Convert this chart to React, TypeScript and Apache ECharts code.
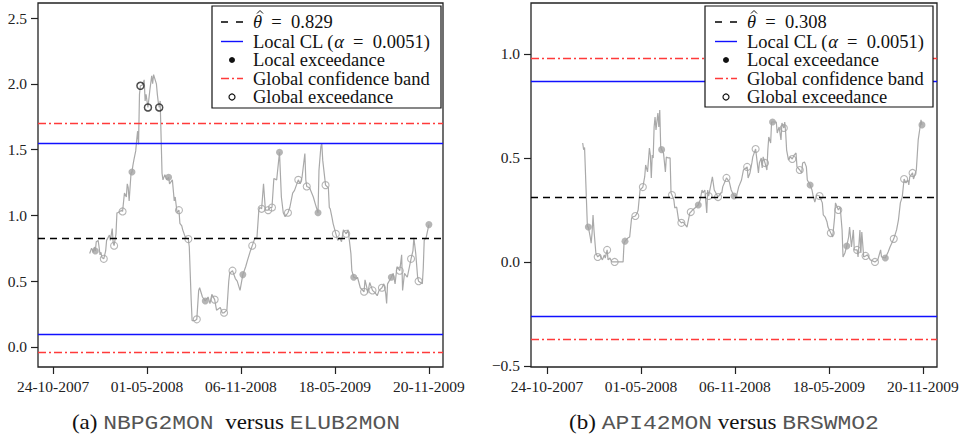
import React, { useEffect, useRef } from 'react';
import * as echarts from 'echarts';

// ---- data -------------------------------------------------------------
const dateLabels = ['24-10-2007', '01-05-2008', '06-11-2008', '18-05-2009', '20-11-2009'];
const tickObs = [0, 100, 200, 300, 400];
const leftYTicks = [0, 0.5, 1, 1.5, 2, 2.5];
const rightYTicks = [-0.5, 0, 0.5, 1];

const leftTrace = [
  [39,0.71],[41,0.75],[43,0.72],[44,0.76],[45,0.73],[46,0.80],[48,0.81],[49,0.76],[50,0.70],[51,0.72],[52,0.68],[54,0.67],[56,0.73],[57,0.81],[60,0.85],[61,0.81],[63,0.90],[64,0.79],[65,0.77],[67,0.86],[68,1.02],[69,1.02],[73,1.04],[74,1.03],[76,1.17],[78,1.14],[79,1.24],[80,1.21],[81,1.11],[83,1.32],[84,1.33],[85,1.38],[86,1.42],[88,1.49],[89,1.57],[90,1.64],[91,1.54],[92,1.92],[93,1.985],[95,1.99],[97,2.03],[98,1.87],[99,1.92],[101,1.82],[103,1.95],[105,2.06],[106,2.00],[107,2.07],[110,2.00],[111,1.92],[112,1.86],[113,1.82],[114,1.87],[116,1.32],[117,1.27],[119,1.31],[121,1.27],[123,1.29],[124,1.24],[127,1.27],[129,1.11],[130,1.14],[132,1.02],[134,1.04],[135,0.94],[137,0.92],[138,0.89],[140,0.85],[141,0.83],[144,0.82],[145,0.76],[146,0.56],[147,0.36],[148,0.20],[151,0.20],[153,0.21],[155,0.43],[156,0.45],[159,0.38],[161,0.36],[162,0.35],[165,0.38],[167,0.33],[169,0.40],[172,0.36],[174,0.28],[178,0.30],[180,0.26],[182,0.26],[185,0.28],[187,0.50],[188,0.56],[191,0.58],[194,0.52],[196,0.50],[199,0.43],[202,0.55],[205,0.61],[207,0.66],[210,0.73],[212,0.77],[215,0.83],[217,0.83],[219,1.04],[220,1.06],[222,1.05],[224,1.24],[226,1.04],[229,1.04],[231,1.06],[233,1.06],[235,1.28],[238,1.27],[241,1.48],[243,1.14],[245,1.02],[247,0.99],[250,1.02],[252,1.06],[255,1.17],[257,1.19],[261,1.27],[263,1.24],[265,1.29],[268,1.47],[269,1.27],[270,1.22],[273,1.21],[277,1.14],[279,1.09],[282,1.02],[283,1.34],[285,1.52],[286,1.55],[287,1.42],[290,1.23],[293,1.21],[294,1.06],[295,1.05],[297,0.98],[298,0.94],[301,0.86],[303,0.81],[305,0.83],[307,0.80],[309,0.89],[312,0.86],[314,0.89],[315,0.83],[317,0.71],[318,0.58],[320,0.53],[323,0.52],[324,0.53],[327,0.45],[331,0.42],[332,0.51],[334,0.45],[335,0.41],[337,0.49],[340,0.43],[343,0.41],[345,0.39],[347,0.43],[350,0.45],[352,0.48],[354,0.41],[355,0.33],[356,0.48],[360,0.53],[362,0.56],[364,0.48],[366,0.61],[369,0.58],[371,0.70],[372,0.43],[374,0.56],[377,0.53],[381,0.67],[383,0.73],[384,0.83],[386,0.71],[388,0.53],[389,0.50],[393,0.48],[394,0.60],[395,0.81],[397,0.83],[400,0.93]
];
const leftLocal = [[45,0.73],[84,1.33],[123,1.29],[162,0.35],[202,0.55],[241,1.48],[282,1.02],[320,0.53],[360,0.53],[400,0.93]];
const leftGlobal = [[54,0.67],[65,0.77],[74,1.03],[134,1.04],[144,0.82],[153,0.21],[172,0.36],[182,0.26],[191,0.58],[212,0.77],[222,1.05],[229,1.04],[233,1.06],[250,1.02],[261,1.27],[270,1.22],[290,1.23],[301,0.86],[312,0.86],[331,0.42],[340,0.43],[350,0.45],[369,0.58],[381,0.67],[389,0.50]];
const leftGlobalOut = [[93,1.985],[101,1.82],[113,1.82]];
const leftTheta = 0.829;
const leftLocalCL = [0.1, 1.555];
const leftGlobalBand = [-0.04, 1.695];

const rightTrace = [
  [38,0.572],[39,0.54],[40,0.55],[43,0.17],[44,0.168],[46,0.12],[47,0.09],[48,0.14],[49,0.226],[50,0.154],[52,0.043],[54,0.024],[56,0.034],[59,0.01],[61,0.034],[62,0.019],[64,0.058],[65,0.01],[67,0.019],[69,0.0],[72,0.0],[76,0.0],[81,0.0],[82,0.09],[83,0.10],[86,0.115],[88,0.12],[90,0.21],[91,0.216],[94,0.221],[96,0.236],[97,0.25],[99,0.346],[102,0.36],[104,0.41],[105,0.466],[107,0.433],[109,0.548],[110,0.514],[111,0.404],[112,0.514],[113,0.50],[114,0.649],[115,0.697],[116,0.635],[118,0.716],[119,0.649],[120,0.731],[121,0.553],[122,0.54],[124,0.524],[126,0.433],[127,0.505],[129,0.50],[131,0.50],[132,0.332],[133,0.322],[135,0.298],[136,0.26],[138,0.264],[140,0.202],[143,0.188],[145,0.192],[149,0.168],[152,0.236],[153,0.24],[155,0.25],[161,0.274],[163,0.298],[165,0.346],[166,0.332],[168,0.346],[170,0.236],[171,0.346],[172,0.317],[174,0.361],[176,0.409],[178,0.346],[182,0.312],[185,0.332],[186,0.332],[187,0.361],[191,0.404],[194,0.385],[196,0.346],[199,0.317],[202,0.322],[204,0.361],[207,0.394],[209,0.442],[213,0.457],[214,0.404],[216,0.428],[218,0.476],[219,0.505],[222,0.543],[223,0.505],[225,0.428],[226,0.476],[228,0.50],[229,0.452],[230,0.505],[232,0.476],[234,0.442],[235,0.538],[236,0.601],[238,0.572],[239,0.673],[240,0.673],[244,0.673],[245,0.62],[247,0.649],[249,0.587],[250,0.668],[252,0.644],[253,0.673],[254,0.62],[255,0.538],[257,0.49],[259,0.505],[261,0.495],[263,0.514],[265,0.524],[266,0.457],[269,0.442],[271,0.428],[272,0.476],[274,0.481],[276,0.457],[277,0.394],[280,0.37],[282,0.346],[283,0.322],[285,0.288],[287,0.322],[290,0.317],[293,0.284],[294,0.226],[296,0.216],[298,0.192],[299,0.168],[302,0.139],[304,0.12],[306,0.212],[307,0.284],[310,0.25],[312,0.264],[314,0.154],[315,0.024],[317,0.043],[319,0.077],[321,0.12],[322,0.168],[324,0.072],[326,0.154],[327,0.058],[330,0.058],[331,0.024],[333,0.154],[334,0.043],[335,0.144],[337,0.024],[339,0.029],[341,0.034],[344,0.01],[349,0.0],[352,0.01],[355,0.058],[356,0.024],[360,0.019],[363,0.048],[365,0.072],[369,0.111],[372,0.154],[374,0.202],[376,0.284],[378,0.312],[380,0.399],[382,0.38],[384,0.394],[385,0.37],[386,0.409],[389,0.428],[390,0.399],[393,0.442],[394,0.514],[395,0.587],[397,0.649],[398,0.683],[399,0.659]
];
const rightLocal = [[44,0.168],[83,0.10],[122,0.54],[161,0.274],[199,0.317],[240,0.673],[280,0.37],[319,0.077],[360,0.019],[399,0.659]];
const rightGlobal = [[54,0.024],[64,0.058],[72,0.0],[94,0.221],[102,0.36],[133,0.322],[143,0.188],[153,0.24],[172,0.317],[182,0.312],[191,0.404],[213,0.457],[222,0.543],[232,0.476],[252,0.644],[261,0.495],[269,0.442],[290,0.317],[302,0.139],[310,0.25],[330,0.058],[339,0.029],[349,0.0],[369,0.111],[380,0.399],[389,0.428]];
const rightTheta = 0.308;
const rightLocalCL = [-0.257, 0.873];
const rightGlobalBand = [-0.367, 0.983];

const alphaText = '0.0051';
const captionA = ['(a)', 'NBPG2MON', 'versus', 'ELUB2MON'];
const captionB = ['(b)', 'API42MON', 'versus', 'BRSWMO2'];

// ---- styling ----------------------------------------------------------
const SERIF = "'Liberation Serif', 'Times New Roman', serif";
const MONO = "'Liberation Mono', 'Courier New', monospace";
const TRACE = '#a9a9a9';
const MARK = '#a2a2a2';
const BLUE = '#1010ff';
const RED = '#ff3a3a';
const DASH = [7, 5];
const DASHDOT = [8, 3, 2, 3];
const EQ = '\u2002=\u2002';

function fmtY(v: number) {
  return v < 0 ? '\u2212' + Math.abs(v).toFixed(1) : v.toFixed(1);
}

function panelSeries(idx: number, trace: number[][], local: number[][], global: number[][], globalOut: number[][], theta: number, cl: number[], band: number[]) {
  const s: any[] = [
    {
      type: 'line', xAxisIndex: idx, yAxisIndex: idx, data: trace, symbol: 'none', showSymbol: false,
      lineStyle: { color: TRACE, width: 1.2 }, z: 2, silent: true,
      markLine: {
        silent: true, symbol: 'none', label: { show: false }, animation: false,
        data: [
          { yAxis: theta, lineStyle: { color: '#000', type: DASH, width: 1.3 } },
          { yAxis: cl[0], lineStyle: { color: BLUE, type: 'solid', width: 1.4 } },
          { yAxis: cl[1], lineStyle: { color: BLUE, type: 'solid', width: 1.4 } },
          { yAxis: band[0], lineStyle: { color: RED, type: DASHDOT, width: 1.4 } },
          { yAxis: band[1], lineStyle: { color: RED, type: DASHDOT, width: 1.4 } },
        ],
      },
    },
    {
      type: 'scatter', xAxisIndex: idx, yAxisIndex: idx, data: local, symbol: 'circle', symbolSize: 7,
      itemStyle: { color: MARK }, z: 3, silent: true,
    },
    {
      type: 'scatter', xAxisIndex: idx, yAxisIndex: idx, data: global, symbol: 'circle', symbolSize: 7,
      itemStyle: { color: 'rgba(0,0,0,0)', borderColor: MARK, borderWidth: 1.1 }, z: 3, silent: true,
    },
  ];
  if (globalOut.length) {
    s.push({
      type: 'scatter', xAxisIndex: idx, yAxisIndex: idx, data: globalOut, symbol: 'circle', symbolSize: 7,
      itemStyle: { color: 'rgba(0,0,0,0)', borderColor: '#222', borderWidth: 1.5 }, z: 4, silent: true,
    });
  }
  return s;
}

function xAxisCfg(gridIndex: number, min: number, max: number) {
  return {
    type: 'value', gridIndex, min, max, position: 'bottom',
    axisLine: { show: false, onZero: false }, splitLine: { show: false },
    axisTick: { show: true, inside: false, length: 7, customValues: tickObs, lineStyle: { color: '#222', width: 1.2 } },
    axisLabel: {
      customValues: tickObs, margin: 11, fontFamily: SERIF, fontSize: 15.5, color: '#222',
      formatter: (v: number) => dateLabels[tickObs.indexOf(Math.round(v))] ?? '',
    },
  };
}

function yAxisCfg(gridIndex: number, min: number, max: number, ticks: number[]) {
  return {
    type: 'value', gridIndex, min, max, position: 'left',
    axisLine: { show: false, onZero: false }, splitLine: { show: false },
    axisTick: { show: true, inside: false, length: 7, customValues: ticks, lineStyle: { color: '#222', width: 1.2 } },
    axisLabel: { customValues: ticks, margin: 11, fontFamily: SERIF, fontSize: 15.5, color: '#222', formatter: fmtY },
  };
}

function legendGraphics(bx: number, by: number, bw: number, bh: number, lx0: number, lx1: number, tx: number, theta: number) {
  const rows = [by + 16, by + 35.5, by + 54, by + 72.5, by + 91];
  const mx = (lx0 + lx1) / 2;
  const txt = (y: number, text: string) => ({
    type: 'text', x: tx, y, z: 102,
    style: {
      text, fontFamily: SERIF, fontSize: 18.5, fill: '#111', verticalAlign: 'middle', align: 'left',
      rich: { i: { fontFamily: SERIF, fontSize: 18.5, fontStyle: 'italic', fill: '#111' } },
    },
  });
  return [
    { type: 'rect', z: 100, shape: { x: bx, y: by, width: bw, height: bh }, style: { fill: '#fff', stroke: '#111', lineWidth: 1.2 } },
    { type: 'line', z: 101, shape: { x1: lx0, y1: rows[0], x2: lx1, y2: rows[0] }, style: { stroke: '#000', lineWidth: 1.3, lineDash: [7, 8] } },
    txt(rows[0], '{i|\u03B8}' + EQ + theta.toFixed(3)),
    {
      type: 'polyline', z: 103,
      shape: { points: [[tx + 4, rows[0] - 8.5], [tx + 7, rows[0] - 11.5], [tx + 10, rows[0] - 8.5]] },
      style: { stroke: '#111', lineWidth: 1, fill: 'none' },
    },
    { type: 'line', z: 101, shape: { x1: lx0, y1: rows[1], x2: lx1, y2: rows[1] }, style: { stroke: BLUE, lineWidth: 1.4 } },
    txt(rows[1], 'Local CL ({i|\u03B1}' + EQ + alphaText + ')'),
    { type: 'circle', z: 101, shape: { cx: mx, cy: rows[2], r: 3 }, style: { fill: '#111' } },
    txt(rows[2], 'Local exceedance'),
    { type: 'line', z: 101, shape: { x1: lx0, y1: rows[3], x2: lx1, y2: rows[3] }, style: { stroke: RED, lineWidth: 1.3, lineDash: DASHDOT } },
    txt(rows[3], 'Global confidence band'),
    { type: 'circle', z: 101, shape: { cx: mx, cy: rows[4], r: 3 }, style: { fill: 'none', stroke: '#111', lineWidth: 1.2 } },
    txt(rows[4], 'Global exceedance'),
  ];
}

function captionGraphic(cx: number, cy: number, parts: string[], gap: string) {
  return {
    type: 'text', x: cx, y: cy, scaleX: 1.15, z: 100,
    style: {
      text: `{s|${parts[0]}} {m|${parts[1]}}${gap}{s|${parts[2]}} {m|${parts[3]}}`,
      fontFamily: SERIF, fontSize: 20, fill: '#111', align: 'center', verticalAlign: 'middle',
      rich: {
        s: { fontFamily: SERIF, fontSize: 20, fill: '#111' },
        m: { fontFamily: MONO, fontSize: 20, fill: '#555' },
      },
    },
  };
}

export default function App() {
  const ref = useRef<HTMLDivElement>(null);
  useEffect(() => {
    if (!ref.current) return;
    const chart = echarts.init(ref.current, null, { renderer: 'svg' });
    const option: any = {
      animation: false,
      backgroundColor: '#fff',
      grid: [
        { left: 38, top: 3, width: 405, height: 364, show: true, borderColor: '#222', borderWidth: 1.3, containLabel: false },
        { left: 531, top: 3, width: 406, height: 364, show: true, borderColor: '#222', borderWidth: 1.3, containLabel: false },
      ],
      xAxis: [xAxisCfg(0, -16, 415), xAxisCfg(1, -17, 415)],
      yAxis: [yAxisCfg(0, -0.152, 2.614, leftYTicks), yAxisCfg(1, -0.505, 1.245, rightYTicks)],
      series: [
        ...panelSeries(0, leftTrace, leftLocal, leftGlobal, leftGlobalOut, leftTheta, leftLocalCL, leftGlobalBand),
        ...panelSeries(1, rightTrace, rightLocal, rightGlobal, [], rightTheta, rightLocalCL, rightGlobalBand),
      ],
      graphic: [
        ...legendGraphics(212, 6, 229, 102, 221, 243, 253, leftTheta),
        ...legendGraphics(705, 6, 228, 101, 715, 737, 747, rightTheta),
        captionGraphic(236, 423, captionA, '  '),
        captionGraphic(724, 423, captionB, ' '),
      ],
    };
    chart.setOption(option);
    return () => chart.dispose();
  }, []);
  return <div ref={ref} style={{ position: 'absolute', left: 0, top: 0, width: 964, height: 438, background: '#fff' }} />;
}
